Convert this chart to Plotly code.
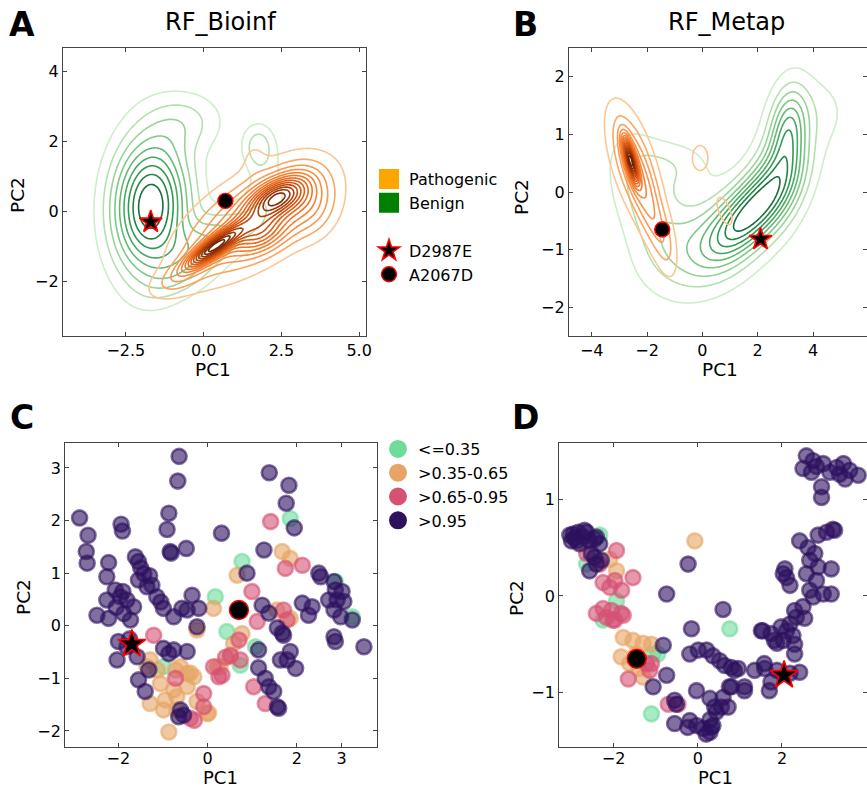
import numpy as np
import plotly.graph_objects as go

FONT = "DejaVu Sans"

# ---------------- KDE mixture components read off panels A and B ----------------
# each list: centre x, centre y, sd x, sd y, correlation, relative peak height
A_ben_mx = [-1.70, 0.20, -0.50, 1.75, 2.00, -0.60]
A_ben_my = [0.15, -0.90, 2.60, 1.85, 0.30, -2.00]
A_ben_sx = [0.85, 1.00, 0.85, 0.35, 0.50, 0.80]
A_ben_sy = [1.35, 0.70, 0.60, 0.45, 1.10, 0.40]
A_ben_r = [0.05, 0.60, 0.00, 0.00, 0.20, 0.40]
A_ben_w = [1.00, 0.35, 0.19, 0.24, 0.14, 0.08]

A_pat_mx = [0.30, 2.35, 1.50, 1.60, 1.80, 3.35, -0.90]
A_pat_my = [-1.05, 0.40, -0.30, 1.60, -0.60, 0.30, -2.00]
A_pat_sx = [0.60, 0.60, 1.50, 0.30, 0.60, 0.60, 0.60]
A_pat_sy = [0.40, 0.40, 1.05, 0.40, 0.40, 0.65, 0.35]
A_pat_r = [0.85, 0.50, 0.60, 0.00, 0.30, 0.00, 0.50]
A_pat_w = [1.00, 0.80, 0.45, 0.06, 0.40, 0.27, 0.12]

B_ben_mx = [1.75, 3.10, 2.80, 0.00, -2.00, -1.00, 4.00]
B_ben_my = [-0.35, 1.10, 0.30, -0.90, -0.10, 0.45, 1.40]
B_ben_sx = [1.00, 0.45, 0.70, 1.30, 0.85, 0.90, 0.90]
B_ben_sy = [0.55, 0.50, 0.60, 0.55, 0.70, 0.30, 0.45]
B_ben_r = [0.65, 0.20, 0.30, 0.25, -0.40, 0.00, 0.00]
B_ben_w = [1.00, 0.55, 0.45, 0.38, 0.28, 0.15, 0.13]

B_pat_mx = [-2.60, -2.50, -1.90, -1.30, -0.08, 0.80]
B_pat_my = [0.55, 0.50, -0.30, -0.90, 0.59, -0.33]
B_pat_sx = [0.18, 0.60, 0.45, 0.30, 0.26, 0.25]
B_pat_sy = [0.25, 0.65, 0.60, 0.40, 0.20, 0.22]
B_pat_r = [-0.70, -0.60, -0.70, -0.40, 0.00, -0.60]
B_pat_w = [1.00, 0.30, 0.20, 0.10, 0.12, 0.12]

# highlighted variants (PC1, PC2) in each panel
star_A = ([-1.70], [-0.30]); circ_A = ([0.70], [0.30])
star_B = ([2.10], [-0.82]); circ_B = ([-1.45], [-0.65])
star_C = ([-1.70], [-0.35]); circ_C = ([0.70], [0.30])
star_D = ([2.05], [-0.82]); circ_D = ([-1.45], [-0.65])

# ---------------- scatter data: panel C ----------------
C_green_x = [0.77, 1.85, 0.17, 0.43, 1.07, 2.86, 3.24, 0.73, -0.99]
C_green_y = [1.22, 2.04, 0.55, -0.11, -0.40, 0.84, 0.17, -0.75, -0.78]
C_orange_x = [0.13, 0.66, 1.67, 1.85, -0.24, 0.58, 0.51, 1.85, 1.55, -1.29, -1.06, -1.29, -0.95,
              -0.69, -0.87, -0.61, -0.46, -0.31, -0.46, -0.76, -0.24, -0.01, 0.28, 0.77, -0.72,
              -0.39, -1.36, -1.13, -0.69, 0.02, 0.21, -0.99]
C_orange_y = [0.33, 0.96, 1.41, 1.28, -0.08, -0.34, -0.59, 0.14, 0.30, -0.65, -1.10, -1.48, -1.41,
              -1.60, -2.02, -0.78, -0.91, -0.97, -1.16, -1.22, -1.44, -1.67, -0.78, -0.15, -0.84,
              -0.90, -0.78, -0.84, -1.35, -1.66, -0.78, -1.60]
C_pink_x = [1.41, 1.74, 2.12, 0.99, 1.11, 1.70, 1.78, 0.70, 0.51, 0.25, 0.13, -0.09, -0.09, -0.39,
            -0.72, -1.21, 1.03, 1.29, 0.40, -0.30, 0.73, 0.32]
C_pink_y = [1.98, 1.09, 1.15, 0.65, 0.08, 0.30, 0.11, -0.27, -0.56, -0.97, -0.78, -1.29, -1.54, -1.76,
            -1.00, -0.18, -1.16, -1.48, -0.60, -1.80, -0.65, -0.94]
C_purple_x = [-0.64, -0.67, 1.38, 1.82, 1.76, 1.94, -2.87, -2.68, -2.72, -2.70, -1.94, -1.91, -0.87,
              -0.91, -0.84, -0.48, -0.82, 0.31, 1.26, -2.22, -2.26, -1.62, -1.55, -1.43, -1.25, -1.14,
              -0.99, -1.36, -1.55, -1.50, -1.30, -1.05, -2.48, -2.22, -2.26, -2.07, -1.96, -1.81,
              -1.88, -1.73, -1.66, -2.05, -1.90, -2.00, -2.03, -1.81, -1.58, -1.55, -1.40, -1.32,
              -1.75, -0.35, -0.46, -0.20, -0.76, -0.58, -0.24, -0.99, -0.76, -0.46, -0.87, -0.61,
              -0.54, -0.65, 0.88, 1.22, 1.37, 1.56, 1.67, 1.70, 1.14, 1.14, 1.29, 1.37, 1.48, 1.56,
              1.59, 1.85, 1.78, 1.97, 1.63, 2.12, 2.34, 2.26, 2.49, 2.53, 2.83, 2.86, 2.71, 2.90,
              3.05, 2.83, 2.98, 3.24, 2.83, 2.86, 3.50, 3.01]
C_purple_y = [3.22, 2.75, 2.91, 2.67, 2.33, 1.86, 2.05, 1.72, 1.41, 1.19, 1.93, 1.80, 2.14, 1.83, 1.41,
              1.47, 1.38, 1.76, 1.44, 1.20, 0.93, 1.31, 1.22, 0.99, 0.77, 0.55, 0.33, 0.74, 0.87, 1.10,
              0.95, 0.45, 0.20, 0.14, 0.49, 0.68, 0.55, 0.49, 0.23, 0.11, 0.36, 0.35, 0.65, -0.30,
              -0.65, -0.40, -0.59, -1.03, -1.25, -0.84, -0.25, 0.58, 0.30, 0.33, 0.17, 0.33, -0.02,
              -0.43, -0.46, -0.49, -0.53, -1.60, -1.70, -1.73, 1.00, 0.39, 0.24, -0.04, -0.14, -0.18,
              -0.46, -0.80, -1.00, -1.16, -1.25, -1.54, -1.57, -0.49, -0.65, -0.81, -0.65, 0.43, 0.36,
              0.20, 1.00, 0.93, 0.84, 0.68, 0.49, 0.49, 0.46, 0.30, 0.17, 0.11, -0.21, -0.30, -0.40, 0.65]

# ---------------- scatter data: panel D ----------------
D_green_x = [-2.33, -1.93, -2.25, -1.06, -1.10, 0.76, -2.64, -0.95]
D_green_y = [0.63, -0.05, -0.25, -0.60, -1.22, -0.34, 0.33, -0.60]
D_orange_x = [-0.07, -1.93, -1.77, -1.54, -1.30, -1.62, -1.30, -1.46, -2.09, -1.40, -1.82, -1.10]
D_orange_y = [0.57, 0.26, -0.43, -0.46, -0.49, -0.70, -0.84, -0.60, 0.38, -0.75, -0.63, -0.50]
D_pink_x = [-2.64, -1.93, -2.33, -2.25, -2.09, -1.81, -1.54, -2.41, -2.17, -1.97, -1.77, -2.05, -2.25,
            -1.97, -1.65, -1.14, -1.10, -0.70, -0.47, -1.22, -2.02, -1.82]
D_pink_y = [0.44, 0.47, 0.33, 0.14, 0.09, 0.06, 0.19, -0.18, -0.22, -0.25, -0.20, -0.15, -0.13, 0.16,
            -0.86, -0.77, -0.70, -1.12, -1.12, -0.70, -0.25, -0.18]
D_purple_x = [-2.96, -2.84, -2.72, -2.64, -2.57, -2.41, -2.33, -2.88, -3.04, -2.45, -2.29, -2.57, -2.41,
              -2.69, -2.81, -3.00, -2.53, -2.45, -2.93, -0.23, -0.74, 0.60, -0.15, -0.82, -0.74, -1.06,
              -0.51, -0.55, -0.19, 0.01, 0.21, 0.36, 0.52, 0.64, 0.80, 0.96, -0.03, -0.19, -0.03, 0.13,
              0.29, 0.36, 0.44, 0.56, 0.72, 0.60, 0.80, 1.11, 0.29, 0.29, -0.24, -0.55, 0.20, 0.87, 0.75,
              0.40, 0.32, 1.35, 1.59, 1.74, 1.70, 1.88, 2.19, 2.42, 1.51, 1.74, 1.88, 2.03, 2.11, 2.26,
              2.30, 2.19, 2.34, 2.30, 2.54, 2.50, 2.74, 2.66, 2.98, 3.17, 2.82, 2.58, 2.07, 2.11, 2.19,
              2.42, 2.66, 2.78, 2.86, 3.17, 2.86, 3.06, 3.21, 3.25, 2.62, 2.58, 2.74, 2.50, 2.82, 2.98,
              3.14, 3.30, 3.46, 3.61, 3.81, 2.94, 2.94, 3.50, 3.37, 2.70, 2.03, 1.98, 1.54, 1.82, 2.30,
              1.58, 1.11]
D_purple_y = [0.64, 0.66, 0.61, 0.66, 0.57, 0.61, 0.54, 0.57, 0.63, 0.40, 0.37, 0.26, 0.33, 0.68, 0.54,
              0.57, 0.44, 0.59, 0.60, 0.33, 0.02, -0.14, -0.34, -0.51, -0.82, -0.94, -1.12, -1.08, -0.60,
              -0.56, -0.56, -0.62, -0.67, -0.72, -0.74, -0.75, -0.98, -1.29, -1.34, -1.37, -1.41, -1.34,
              -1.20, -1.15, -1.15, -1.05, -0.94, -0.94, -1.06, -1.28, -1.36, -1.32, -1.43, -0.77, -0.94,
              -1.15, -1.36, -0.77, -0.75, -0.89, -0.98, -0.77, -0.80, -0.79, -0.36, -0.39, -0.49, -0.46,
              -0.36, -0.41, -0.60, -0.29, -0.22, -0.15, -0.23, -0.11, -0.01, 0.06, 0.02, 0.02, 0.16, 0.23,
              0.28, 0.19, 0.11, 0.57, 0.37, 0.44, 0.30, 0.28, 0.63, 0.66, 0.69, 0.68, 0.50, 1.45, 1.40,
              1.32, 1.34, 1.37, 1.28, 1.33, 1.37, 1.30, 1.25, 1.13, 1.02, 1.21, 1.26, 1.28, 0.23, -0.32,
              -0.36, -0.46, -0.50, -0.70, -0.98]

cat_names = ["<=0.35", ">0.35-0.65", ">0.65-0.95", ">0.95"]
cat_rgb = [(110, 220, 155), (230, 165, 100), (214, 82, 115), (45, 17, 95)]

# ---------------- axes geometry ----------------
rng = {
    "A": ([-4.52, 5.22], [-3.57, 4.68]),
    "B": ([-4.82, 5.95], [-2.5, 2.5]),
    "C": ([-3.19, 3.80], [-2.30, 3.48]),
    "D": ([-3.29, 4.02], [-1.56, 1.58]),
}

GREENS = [[0, "#cdeec8"], [0.12, "#b4e1ad"], [0.45, "#6cc078"], [0.75, "#2f9a52"], [1, "#15703a"]]
ORANGES = [[0, "#fdc592"], [0.06, "#fda762"], [0.35, "#f5792a"], [0.6, "#d9520c"],
           [0.8, "#a83a06"], [1, "#6e1f04"]]


def mixture(xr, yr, mx, my, sx, sy, r, w, n=240):
    gx = np.linspace(xr[0], xr[1], n)
    gy = np.linspace(yr[0], yr[1], n)
    X, Y = np.meshgrid(gx, gy)
    Z = np.zeros_like(X)
    for a, b, c, d, e, f in zip(mx, my, sx, sy, r, w):
        dx = (X - a) / c
        dy = (Y - b) / d
        q = (dx * dx - 2 * e * dx * dy + dy * dy) / (1 - e * e)
        Z += f * np.exp(-0.5 * q)
    return gx, gy, Z / Z.max()


fig = go.Figure()


def add_kde(panel, xa, ya, comps, cscale, start, end, size):
    gx, gy, Z = mixture(rng[panel][0], rng[panel][1], *comps)
    fig.add_trace(go.Contour(
        x=gx, y=gy, z=Z, xaxis=xa, yaxis=ya, zmin=0, zmax=1, zauto=False,
        contours=dict(coloring="lines", start=start, end=end, size=size),
        line=dict(width=1.6), colorscale=cscale, showscale=False,
        hoverinfo="skip", showlegend=False))


add_kde("A", "x", "y", (A_ben_mx, A_ben_my, A_ben_sx, A_ben_sy, A_ben_r, A_ben_w), GREENS, 0.1, 0.91, 0.1)
add_kde("A", "x", "y", (A_pat_mx, A_pat_my, A_pat_sx, A_pat_sy, A_pat_r, A_pat_w), ORANGES, 0.06, 0.96, 0.068)
add_kde("B", "x2", "y2", (B_ben_mx, B_ben_my, B_ben_sx, B_ben_sy, B_ben_r, B_ben_w), GREENS, 0.07, 0.88, 0.1)
add_kde("B", "x2", "y2", (B_pat_mx, B_pat_my, B_pat_sx, B_pat_sy, B_pat_r, B_pat_w), ORANGES, 0.05, 0.96, 0.06)


def rgba(c, a):
    return "rgba(%d,%d,%d,%.2f)" % (c[0], c[1], c[2], a)


def add_scatter(xa, ya, groups):
    for (x, y), c in zip(groups, cat_rgb):
        fig.add_trace(go.Scatter(
            x=x, y=y, xaxis=xa, yaxis=ya, mode="markers", showlegend=False, hoverinfo="skip",
            marker=dict(size=15, color=rgba(c, 0.6), line=dict(color=rgba(c, 0.6), width=2.6))))


add_scatter("x3", "y3", [(C_green_x, C_green_y), (C_orange_x, C_orange_y),
                         (C_pink_x, C_pink_y), (C_purple_x, C_purple_y)])
add_scatter("x4", "y4", [(D_green_x, D_green_y), (D_orange_x, D_orange_y),
                         (D_pink_x, D_pink_y), (D_purple_x, D_purple_y)])


def add_variants(xa, ya, star, circ, ssize, csize, legend=False):
    fig.add_trace(go.Scatter(x=star[0], y=star[1], xaxis=xa, yaxis=ya, mode="markers",
                             name="D2987E", showlegend=legend, legendgroup="var", hoverinfo="skip",
                             marker=dict(symbol="star", size=ssize, color="black",
                                         line=dict(color="red", width=1.6))))
    fig.add_trace(go.Scatter(x=circ[0], y=circ[1], xaxis=xa, yaxis=ya, mode="markers",
                             name="A2067D", showlegend=legend, legendgroup="var", hoverinfo="skip",
                             marker=dict(symbol="circle", size=csize, color="black",
                                         line=dict(color="red", width=1.4))))


# legend-only class swatches for panel A
fig.add_trace(go.Scatter(x=[None], y=[None], mode="markers", name="Pathogenic", legendgroup="cls",
                         marker=dict(symbol="square", size=16, color="#FFA500",
                                     line=dict(color="#FFA500", width=4))))
fig.add_trace(go.Scatter(x=[None], y=[None], mode="markers", name="Benign", legendgroup="cls",
                         marker=dict(symbol="square", size=16, color="#008000",
                                     line=dict(color="#008000", width=4))))

add_variants("x", "y", star_A, circ_A, 17, 15, legend=True)
add_variants("x2", "y2", star_B, circ_B, 17, 15)
add_variants("x3", "y3", star_C, circ_C, 21, 19)
add_variants("x4", "y4", star_D, circ_D, 21, 19)

# legend-only entries for panel C categories
for nm, c in zip(cat_names, cat_rgb):
    fig.add_trace(go.Scatter(x=[None], y=[None], mode="markers", name=nm, legend="legend2",
                             marker=dict(size=16, color=rgba(c, 1), line=dict(color=rgba(c, 1), width=2))))

W, H = 867, 789
dom = {
    "A": ([63 / W, 366 / W], [1 - 336 / H, 1 - 48 / H]),
    "B": ([569 / W, 1.0], [1 - 336 / H, 1 - 48 / H]),
    "C": ([65.3 / W, 377.3 / W], [1 - 746.7 / H, 1 - 442.7 / H]),
    "D": ([559.3 / W, 1.0], [1 - 746.7 / H, 1 - 443.3 / H]),
}
ticks = {
    "A": (dict(tickvals=[-2.5, 0, 2.5, 5.0], tickformat=".1f"), dict(tickvals=[-2, 0, 2, 4])),
    "B": (dict(tickvals=[-4, -2, 0, 2, 4]), dict(tickvals=[-2, -1, 0, 1, 2])),
    "C": (dict(tickvals=[-2, 0, 2, 3], ticklabelstandoff=-3), dict(tickvals=[-2, -1, 0, 1, 2, 3])),
    "D": (dict(tickvals=[-2, 0, 2, 4], ticklabelstandoff=-3), dict(tickvals=[-1, 0, 1])),
}

common = dict(showline=True, linecolor="#444", linewidth=1.3, mirror="ticks", ticks="inside",
              ticklen=4, tickcolor="#444", showgrid=False, zeroline=False,
              tickfont=dict(family=FONT, size=16, color="black"), automargin=False)
layout = {}
for i, p in enumerate("ABCD"):
    sfx = "" if i == 0 else str(i + 1)
    layout["xaxis" + sfx] = dict(common, domain=dom[p][0], range=rng[p][0], anchor="y" + sfx,
                                 **ticks[p][0])
    layout["yaxis" + sfx] = dict(common, domain=dom[p][1], range=rng[p][1], anchor="x" + sfx,
                                 **ticks[p][1])

ann = []
for txt, x, y in [("A", 22, 24), ("B", 525, 24), ("C", 22, 417), ("D", 525, 417)]:
    ann.append(dict(text="<b>%s</b>" % txt, x=x / W, y=1 - y / H, xref="paper", yref="paper",
                    xanchor="center", yanchor="middle", showarrow=False,
                    font=dict(family=FONT, size=33, color="black")))
for txt, x in [("RF_Bioinf", 221), ("RF_Metap", 726)]:
    ann.append(dict(text=txt, x=x / W, y=1 - 22 / H, xref="paper", yref="paper", showarrow=False,
                    xanchor="center", yanchor="middle", font=dict(family=FONT, size=24, color="black")))
# axis titles
for x, y in [(213, 370), (720, 370)]:
    ann.append(dict(text="PC1", x=x / W, y=1 - y / H, xref="paper", yref="paper", showarrow=False,
                    xanchor="center", yanchor="middle", font=dict(family=FONT, size=18.5, color="black")))
for x in [221, 715]:
    ann.append(dict(text="PC1", x=x / W, y=0, xref="paper", yref="paper", showarrow=False,
                    xanchor="center", yanchor="bottom", borderpad=0,
                    font=dict(family=FONT, size=18, color="black")))
for x, y in [(17, 195), (521, 197), (23, 597), (516, 598)]:
    ann.append(dict(text="PC2", x=x / W, y=1 - y / H, xref="paper", yref="paper", showarrow=False,
                    textangle=-90, xanchor="center", yanchor="middle",
                    font=dict(family=FONT, size=18.5, color="black")))

fig.update_layout(
    width=W, height=H, margin=dict(l=0, r=0, t=0, b=0),
    paper_bgcolor="white", plot_bgcolor="white",
    font=dict(family=FONT, color="black"),
    annotations=ann,
    legend=dict(x=369 / W, y=1 - 162 / H, xanchor="left", yanchor="top", tracegroupgap=24,
                font=dict(family=FONT, size=16, color="black"), bgcolor="rgba(0,0,0,0)",
                itemclick=False),
    legend2=dict(x=378 / W, y=1 - 432 / H, xanchor="left", yanchor="top",
                 font=dict(family=FONT, size=16, color="black"), bgcolor="rgba(0,0,0,0)",
                 itemclick=False),
    **layout,
)

fig.write_html("out.html")
